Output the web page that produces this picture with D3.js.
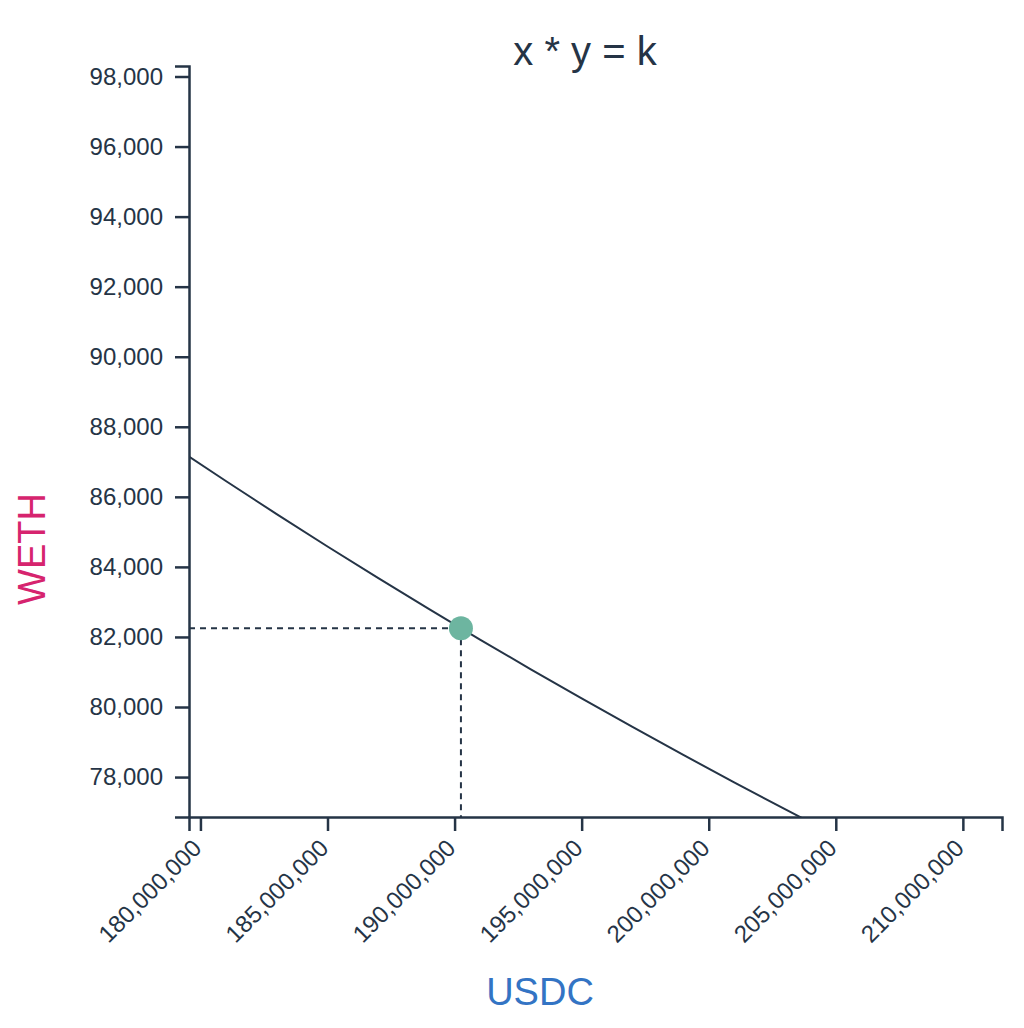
<!DOCTYPE html>
<html>
<head>
<meta charset="utf-8">
<script src="https://cdn.jsdelivr.net/npm/d3@7"></script>
<style>
  html, body { margin: 0; padding: 0; background: #ffffff; }
  svg { display: block; }
  text { font-family: "Liberation Sans", Arial, Helvetica, sans-serif; }
</style>
</head>
<body>
<svg id="chart" width="1024" height="1028"></svg>
<script>
// ---- data ----
const titleText = "x * y = k";
const xLabel = "USDC";
const yLabel = "WETH";
const reserveUSDC = 190250000;   // current pool reserve (x)
const reserveWETH = 82249;       // current pool reserve (y)
const xDomain = [179550000, 211540000];
const yDomain = [76860, 98300];
const xTicks = [180000000, 185000000, 190000000, 195000000, 200000000, 205000000, 210000000];
const yTicks = [78000, 80000, 82000, 84000, 86000, 88000, 90000, 92000, 94000, 96000, 98000];
const curveUSDC = [179550000, 181000000, 183000000, 185000000, 187000000, 189000000, 191000000,
                   193000000, 195000000, 197000000, 199000000, 201000000, 203000000, 205000000];

const k = reserveUSDC * reserveWETH;

// ---- layout ----
const W = 1024, H = 1028;
const margin = { left: 189, right: 22, top: 66, bottom: 211 };
const textColor = "#253446";
const lineColor = "#253446";

const svg = d3.select("#chart");

const x = d3.scaleLinear().domain(xDomain).range([margin.left, W - margin.right]);
const y = d3.scaleLinear().domain(yDomain).range([H - margin.bottom, margin.top]);

const fmt = d3.format(",");

// clip
svg.append("defs").append("clipPath").attr("id", "plotclip")
  .append("rect")
  .attr("x", margin.left).attr("y", margin.top)
  .attr("width", W - margin.left - margin.right)
  .attr("height", H - margin.top - margin.bottom);

// curve
const curveData = curveUSDC.map(u => ({ u, w: k / u }));
svg.append("path")
  .datum(curveData)
  .attr("clip-path", "url(#plotclip)")
  .attr("fill", "none")
  .attr("stroke", lineColor)
  .attr("stroke-width", 2)
  .attr("d", d3.line().x(d => x(d.u)).y(d => y(d.w)).curve(d3.curveMonotoneX));

// dashed guides
svg.append("line")
  .attr("x1", x(xDomain[0])).attr("x2", x(reserveUSDC))
  .attr("y1", y(reserveWETH)).attr("y2", y(reserveWETH))
  .attr("stroke", lineColor).attr("stroke-width", 2).attr("stroke-dasharray", "6,5");
svg.append("line")
  .attr("x1", x(reserveUSDC)).attr("x2", x(reserveUSDC))
  .attr("y1", y(reserveWETH)).attr("y2", y(yDomain[0]))
  .attr("stroke", lineColor).attr("stroke-width", 2).attr("stroke-dasharray", "6,5");

// axes
const xAxis = svg.append("g")
  .attr("transform", `translate(0,${H - margin.bottom})`)
  .call(d3.axisBottom(x).tickValues(xTicks).tickFormat(fmt).tickSize(14).tickSizeOuter(14).tickPadding(8));
xAxis.selectAll("text")
  .attr("font-size", 24)
  .attr("fill", textColor)
  .style("text-anchor", "end")
  .attr("dx", "-0.9em")
  .attr("dy", "0.1em")
  .attr("transform", "rotate(-45)");

const yAxis = svg.append("g")
  .attr("transform", `translate(${margin.left},0)`)
  .call(d3.axisLeft(y).tickValues(yTicks).tickFormat(fmt).tickSize(14).tickSizeOuter(14).tickPadding(12));
yAxis.selectAll("text").attr("font-size", 24).attr("fill", textColor);

[xAxis, yAxis].forEach(g => {
  g.select(".domain").attr("stroke", lineColor).attr("stroke-width", 2.5);
  g.selectAll(".tick line").attr("stroke", lineColor).attr("stroke-width", 2.5);
  g.attr("font-family", null);
});

// point
svg.append("circle")
  .attr("cx", x(reserveUSDC)).attr("cy", y(reserveWETH))
  .attr("r", 12)
  .attr("fill", "#6db5a0");

// title & labels
svg.append("text")
  .attr("x", 585).attr("y", 65)
  .attr("text-anchor", "middle")
  .attr("font-size", 40)
  .attr("fill", textColor)
  .text(titleText);

svg.append("text")
  .attr("x", 540).attr("y", 1005)
  .attr("text-anchor", "middle")
  .attr("font-size", 38)
  .attr("fill", "#3374c4")
  .text(xLabel);

svg.append("text")
  .attr("transform", "translate(45,549) rotate(-90)")
  .attr("text-anchor", "middle")
  .attr("font-size", 38)
  .attr("fill", "#d6246e")
  .text(yLabel);
</script>
</body>
</html>
